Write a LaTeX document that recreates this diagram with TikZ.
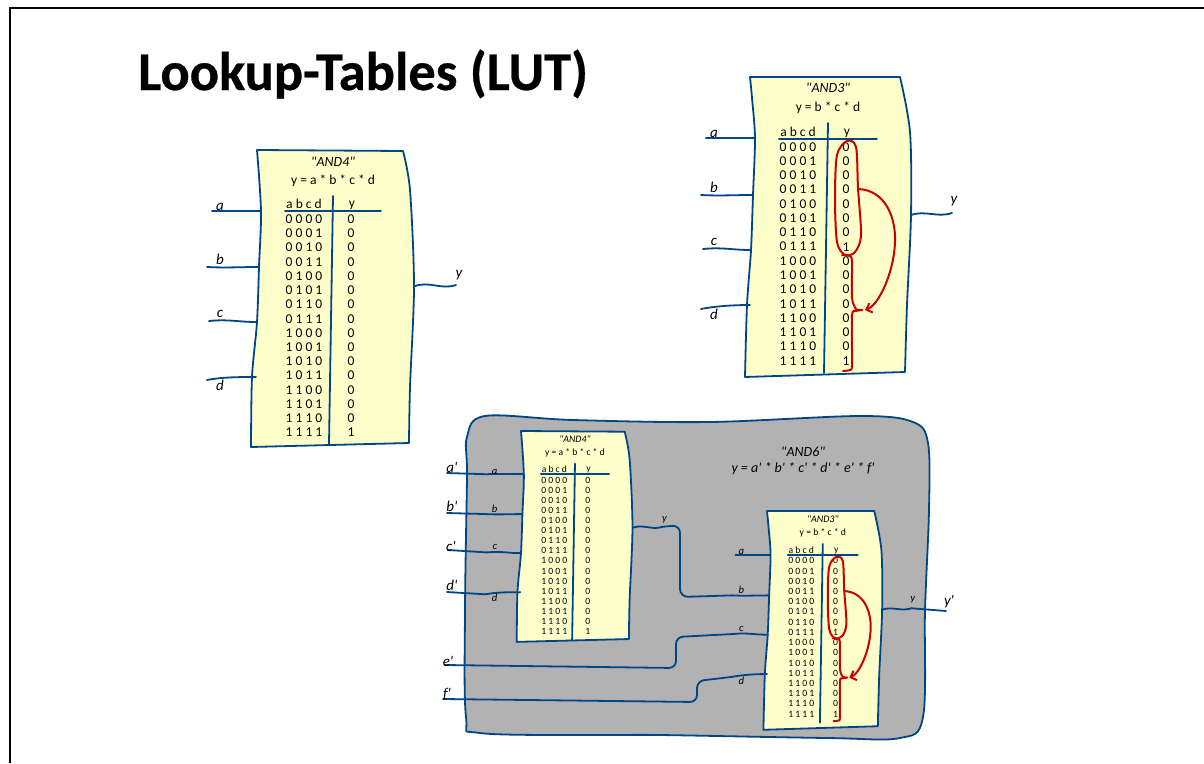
\documentclass[tikz,border=0pt]{standalone}
\usepackage{fontspec}
\setmainfont{Carlito}[Ligatures=TeXOff]
\newfontfamily\titlefont{Carlito}[BoldFeatures={FakeBold=0.5}]
\usetikzlibrary{arrows.meta}
\definecolor{wireblue}{RGB}{0,69,134}
\definecolor{cardyellow}{RGB}{255,255,204}
\definecolor{groupgray}{RGB}{178,178,178}
\definecolor{markred}{RGB}{204,0,0}

\tikzset{
  wire/.style={draw=wireblue, line width=1.8pt, line cap=round},
  card/.style={wire, fill=cardyellow, line join=round},
  marker/.style={draw=markred, line width=2pt, line cap=round},
  cell/.style={inner sep=0pt, font=\fontsize{13.5}{15}\selectfont},
  pin/.style={inner sep=0pt, font=\fontsize{15}{17}\selectfont\itshape},
  card drop/.store in=\carddrop, card drop=0,
  and4/.pic={
    % Card
    \draw[card] (0,0) -- plot[smooth] coordinates {(146,1) (153,40) (157,136) (153,237) (152,293)}
      -- plot[smooth] coordinates {(-6,297) (-5,227) (0,172) (2,117) (4,61) (0,0)} -- cycle;
    % Pins
    \coordinate (-a0) at (-45,61);  \coordinate (-a) at (4,61);
    \coordinate (-b0) at (-50,117); \coordinate (-b) at (2,117);
    \coordinate (-c0) at (-48,171); \coordinate (-c) at (0,172);
    \coordinate (-d0) at (-50,230); \coordinate (-d) at (-1,227);
    \coordinate (-y) at (158,136);  \coordinate (-y0) at (199,135);
    \draw[wire] (-a0) -- (-a);
    \draw[wire] (-b0) .. controls +(20,1) and +(-20,0) .. (-b);
    \draw[wire] (-c0) .. controls +(20,-2) and +(-20,0) .. (-c);
    \draw[wire] (-d0) .. controls +(15,-3) and +(-15,0) .. (-d);
    \draw[wire] (-y) .. controls +(15,-5) and +(-15,5) .. (-y0);
    \node[pin] (-la) at (-37,57) {a};
    \node[pin] (-lb) at (-37,109) {b};
    \node[pin] (-lc) at (-37,164) {c};
    \node[pin] (-ld) at (-37,235) {d};
    \node[pin] (-ly) at (202,125) {y};
    % Table
    \node[cell, font=\fontsize{14}{16}\selectfont\itshape] (-name) at (76,12) {"AND4"};
    \node[cell] (-eqn) at (76,31) {y = a * b * c * d};
    \lutrows{47}{94}{54}{69}{14.24}{0}
    \draw[wire] (76,46) -- (72,294);
    \draw[wire] (28,61) -- (124,61);
  },
  and3/.pic={
    % Card
    \draw[card] (0,0) -- plot[smooth] coordinates {(150,0) (160,55) (161,138) (157,228) (155,295+\carddrop)}
      -- plot[smooth] coordinates {(-5,300+\carddrop) (-3,228) (1,173) (3,118) (5,61) (2,21) (0,0)} -- cycle;
    % Pins
    \coordinate (-a0) at (-44,61);  \coordinate (-a) at (5,61);
    \coordinate (-b0) at (-49,118); \coordinate (-b) at (3,118);
    \coordinate (-c0) at (-47,172); \coordinate (-c) at (1,173);
    \coordinate (-d0) at (-49,232); \coordinate (-d) at (0,228);
    \coordinate (-y) at (161,138);  \coordinate (-y0) at (202,136);
    \draw[wire] (-a0) -- (-a);
    \draw[wire] (-b0) .. controls +(20,1) and +(-20,0) .. (-b);
    \draw[wire] (-c0) .. controls +(20,-2) and +(-20,0) .. (-c);
    \draw[wire] (-d0) .. controls +(15,-3) and +(-15,0) .. (-d);
    \draw[wire] (-y) .. controls +(15,-5) and +(-15,5) .. (-y0);
    \node[pin] (-la) at (-36,57) {a};
    \node[pin] (-lb) at (-36,110) {b};
    \node[pin] (-lc) at (-36,165) {c};
    \node[pin] (-ld) at (-36,237) {d};
    \node[pin] (-ly) at (204,124) {y};
    % Table
    \node[cell, font=\fontsize{14}{16}\selectfont\itshape] (-name) at (78,11) {"AND3"};
    \node[cell] (-eqn) at (78,31) {y = b * c * d};
    \lutrows{48}{96}{55}{69.7}{14.28}{1}
    \draw[wire] (78,46) -- (74,296);
    \draw[wire] (29,62) -- (127,62);
    % Marks
    \draw[marker] plot[smooth cycle] coordinates {(97,64) (106,70) (108,111) (111,158) (105,175)
      (95,178) (87,165) (85,121) (87,78)};
    \draw[marker, -{Straight Barb[length=5pt,width=10pt]}] (108,112) .. controls (135,113) and (146,140)
      .. (145,165) .. controls (144,195) and (129,228) .. (115,233);
    \draw[marker] plot[smooth, tension=0.4] coordinates {(92,178) (100,179) (102,185) (102,221)
      (106,232) (112,233)};
    \draw[marker] plot[smooth, tension=0.4] coordinates {(112,233) (106,234) (102,238) (102,288)
      (100,293) (93,294)};
  }
}

% bits x, out x, header y, first row y, row step, out of row 0111
\newcommand{\lutrows}[6]{
  \node[cell] (-headbits) at (#1,#3) {a b c d};
  \node[cell] (-headout) at (#2+1,#3+1) {y};
  \foreach \bits/\out [count=\i from 0] in {0 0 0 0/0,0 0 0 1/0,0 0 1 0/0,0 0 1 1/0,
      0 1 0 0/0,0 1 0 1/0,0 1 1 0/0,0 1 1 1/#6,1 0 0 0/0,1 0 0 1/0,1 0 1 0/0,1 0 1 1/0,
      1 1 0 0/0,1 1 0 1/0,1 1 1 0/0,1 1 1 1/1} {
    \node[cell] (-bits\i) at (#1,#4+\i*#5) {\bits};
    \node[cell] (-out\i) at (#2,#4+\i*#5) {\out};
  }
}

\begin{document}
\begin{tikzpicture}[x=1pt, y=-1pt]
  \useasboundingbox (0,0) rectangle (1204,763);

  % Frame
  \coordinate (framebl) at (10,763);
  \coordinate (frametl) at (10,8);
  \coordinate (frametr) at (1204,8);
  \draw[line width=2pt] (framebl) -- (frametl) -- (frametr);

  % Title
  \node[anchor=base west, inner sep=0pt, font=\fontsize{54.5}{60}\selectfont\titlefont\bfseries] (title) at (138,90) {Lookup-Tables (LUT)};

  % Big tables
  \pic (bigfour) at (257,150) {and4};
  \pic (bigthree) at (750,77) {and3};

  % Group
  \draw[wire, fill=groupgray] plot[smooth cycle, tension=0.55] coordinates {(485,416) (573,420) (710,422)
    (860,416) (913,422) (928,443) (929,510) (925,610) (923,717) (900,738) (827,738) (660,735)
    (597,735) (480,733) (466,717) (465,610) (467,477) (467,437)};
  \node[pin, font=\fontsize{14}{16}\selectfont\itshape] (groupname) at (803,452) {"AND6"};
  \node[pin, font=\fontsize{14}{16}\selectfont\itshape] (groupeqn) at (803,469) {y = a' * b' * c' * d' * e' * f'};

  % Small tables
  \pic[scale=0.71, transform shape] (smallfour) at (521,431) {and4};
  \pic[scale=0.715, transform shape, card drop=6] (smallthree) at (767,511) {and3};

  % Outer pins
  \coordinate (ain) at (447,473);
  \coordinate (bin) at (447,513);
  \coordinate (cin) at (448,550);
  \coordinate (din) at (447,592);
  \coordinate (ein) at (445,665);
  \coordinate (fin) at (443,699);
  \coordinate (yout) at (946,611);
  \draw[wire] (ain) -- (smallfour-a0);
  \draw[wire] (bin) -- (smallfour-b0);
  \draw[wire] (cin) -- (smallfour-c0);
  \draw[wire] (din) -- (smallfour-d0);
  \draw[wire, rounded corners=8pt] (smallfour-y0) -- (680,525) -- (680,597) -- (smallthree-b0);
  \draw[wire, rounded corners=7pt] (ein) -- (676,668) -- (676,637) -- (smallthree-c0);
  \draw[wire, rounded corners=7pt] (fin) -- (697,702) -- (697,681) -- (smallthree-d0);
  \draw[wire] (smallthree-y0) -- (yout);
  \node[pin] (la) at (452,467) {a'};
  \node[pin] (lb) at (452,506) {b'};
  \node[pin] (lc) at (451,546) {c'};
  \node[pin] (ld) at (452,585) {d'};
  \node[pin] (le) at (448,661) {e'};
  \node[pin] (lf) at (447,694) {f'};
  \node[pin] (lyout) at (949,602) {y'};
\end{tikzpicture}
\end{document}
